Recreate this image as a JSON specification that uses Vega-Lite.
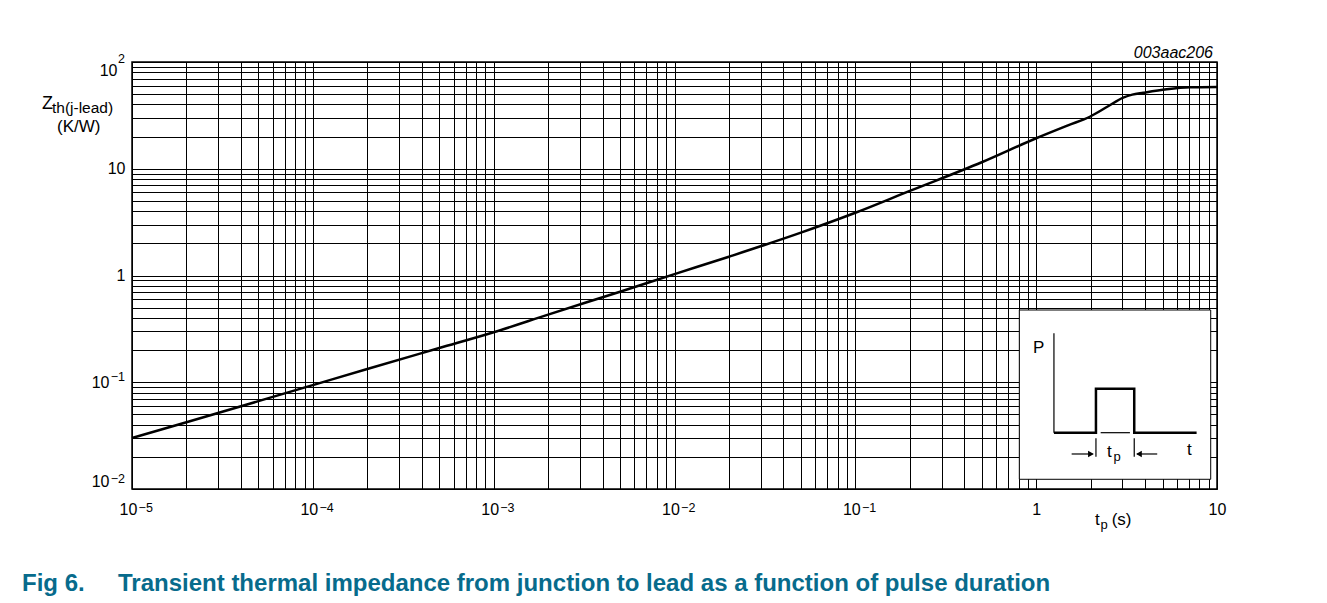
{
  "$schema": "https://vega.github.io/schema/vega-lite/v6.json",
  "width": 1085,
  "height": 427,
  "autosize": {"type": "none"},
  "padding": {"left": 132, "top": 62, "right": 110, "bottom": 114},
  "background": "white",
  "config": {
    "font": "Liberation Sans",
    "view": {"stroke": "#000", "strokeWidth": 1.5}
  },
  "title": {
    "text": "Fig 6.\u00a0\u00a0\u00a0\u00a0\u00a0Transient thermal impedance from junction to lead as a function of pulse duration",
    "orient": "bottom",
    "anchor": "start",
    "frame": "group",
    "dx": -110,
    "offset": 40,
    "fontSize": 24,
    "fontWeight": "bold",
    "color": "#076b8c",
    "font": "Liberation Sans"
  },
  "datasets": {
    "curve": [
      {"t": 0.00001, "z": 0.030},
      {"t": 0.00002, "z": 0.0422},
      {"t": 0.00005, "z": 0.0665},
      {"t": 0.0001, "z": 0.094},
      {"t": 0.0002, "z": 0.133},
      {"t": 0.0005, "z": 0.209},
      {"t": 0.001, "z": 0.294},
      {"t": 0.002, "z": 0.430},
      {"t": 0.005, "z": 0.705},
      {"t": 0.01, "z": 1.03},
      {"t": 0.02, "z": 1.50},
      {"t": 0.05, "z": 2.52},
      {"t": 0.1, "z": 3.87},
      {"t": 0.2, "z": 6.2},
      {"t": 0.5, "z": 11.5},
      {"t": 1.0, "z": 19.3},
      {"t": 1.5, "z": 25.5},
      {"t": 1.98, "z": 30.7},
      {"t": 2.5, "z": 38.5},
      {"t": 3.03, "z": 46.3},
      {"t": 3.4, "z": 49.5},
      {"t": 3.91, "z": 51.5},
      {"t": 5.27, "z": 55.5},
      {"t": 7.08, "z": 57.9},
      {"t": 10, "z": 58.3}
    ],
    "insetBox": [{"t1": 0.807, "t2": 9.23, "z1": 0.01233, "z2": 0.475}],
    "wave": [
      {"i": 0, "t": 1.254, "z": 0.03369},
      {"i": 1, "t": 2.141, "z": 0.03369},
      {"i": 2, "t": 2.141, "z": 0.08701},
      {"i": 3, "t": 3.486, "z": 0.08701},
      {"i": 4, "t": 3.486, "z": 0.03369},
      {"i": 5, "t": 7.713, "z": 0.03369}
    ],
    "segs": [
      {"t1": 1.254, "t2": 1.254, "z1": 0.03369, "z2": 0.2873},
      {"t1": 2.273, "t2": 3.300, "z1": 0.03369, "z2": 0.03369},
      {"t1": 2.141, "t2": 2.141, "z1": 0.02985, "z2": 0.02008},
      {"t1": 3.486, "t2": 3.486, "z1": 0.02985, "z2": 0.02008},
      {"t1": 1.571, "t2": 2.05, "z1": 0.02128, "z2": 0.02128},
      {"t1": 3.62, "t2": 4.671, "z1": 0.02128, "z2": 0.02128}
    ],
    "arrows": [
      {"t": 2.009, "z": 0.02128, "dir": "right"},
      {"t": 3.701, "z": 0.02128, "dir": "left"}
    ],
    "zMain": [{"t": 0.00000318, "z": 36.1, "label": "Z"}],
    "zSub": [{"t": 0.00000361, "z": 33.3, "label": "th(j-lead)"}],
    "txt": [
      {"t": 0.00000385, "z": 22.1, "label": "(K/W)"},
      {"t": 2.113, "z": 0.0046, "label": "t"},
      {"t": 2.615, "z": 0.0046, "label": "(s)"},
      {"t": 0.960, "z": 0.1891, "label": "P"},
      {"t": 2.462, "z": 0.01995, "label": "t"},
      {"t": 6.82, "z": 0.02082, "label": "t"}
    ],
    "subs": [
      {"t": 2.268, "z": 0.00422, "label": "p"},
      {"t": 2.675, "z": 0.01829, "label": "p"}
    ],
    "xexp": [
      {"t": 0.00001088, "z": 0.00613, "label": "−5"},
      {"t": 0.0001088, "z": 0.00613, "label": "−4"},
      {"t": 0.001088, "z": 0.00613, "label": "−3"},
      {"t": 0.01088, "z": 0.00613, "label": "−2"},
      {"t": 0.1088, "z": 0.00613, "label": "−1"}
    ],
    "yexp": [
      {"t": 0.00000915, "z": 106.7, "label": "2"},
      {"t": 0.00000915, "z": 0.1114, "label": "−1"},
      {"t": 0.00000915, "z": 0.01246, "label": "−2"}
    ],
    "code": [{"t": 10, "z": 100, "label": "003aac206"}]
  },
  "layer": [
    {
      "data": {"name": "curve"},
      "mark": {"type": "line", "color": "#000", "strokeWidth": 2.5, "interpolate": "monotone"},
      "encoding": {
        "x": {
          "field": "t", "type": "quantitative",
          "scale": {"type": "log", "domain": [0.00001, 10], "nice": false},
          "axis": {
            "values": [0.00001,0.00002,0.00003,0.00004,0.00005,0.00006,0.00007,0.00008,0.00009,
                       0.0001,0.0002,0.0003,0.0004,0.0005,0.0006,0.0007,0.0008,0.0009,
                       0.001,0.002,0.003,0.004,0.005,0.006,0.007,0.008,0.009,
                       0.01,0.02,0.03,0.04,0.05,0.06,0.07,0.08,0.09,
                       0.1,0.2,0.3,0.4,0.5,0.6,0.7,0.8,0.9,
                       1,2,3,4,5,6,7,8,9,10],
            "labelExpr": "abs(log(datum.value)/LN10 - round(log(datum.value)/LN10)) > 0.001 ? '' : (round(log(datum.value)/LN10) == 0 ? '1' : (round(log(datum.value)/LN10) == 1 ? '10' : '10\u2002\u200b'))",
            "grid": true, "gridColor": "#000", "gridWidth": 1, "gridOpacity": 1,
            "ticks": false, "tickSize": 0, "domain": false,
            "labelOverlap": false, "labelFlush": false, "labelBound": false,
            "labelPadding": 12, "labelFontSize": 16, "labelColor": "#000", "labelFont": "Liberation Sans",
            "title": null
          }
        },
        "y": {
          "field": "z", "type": "quantitative",
          "scale": {"type": "log", "domain": [0.01, 100], "nice": false},
          "axis": {
            "values": [0.01,0.02,0.03,0.04,0.05,0.06,0.07,0.08,0.09,
                       0.1,0.2,0.3,0.4,0.5,0.6,0.7,0.8,0.9,
                       1,2,3,4,5,6,7,8,9,
                       10,20,30,40,50,60,70,80,90,100],
            "labelExpr": "abs(log(datum.value)/LN10 - round(log(datum.value)/LN10)) > 0.001 ? '' : (round(log(datum.value)/LN10) == 0 ? '1' : (round(log(datum.value)/LN10) == 1 ? '10' : (round(log(datum.value)/LN10) > 1 ? '10\u2002\u200b' : '10\u2003\u200b')))",
            "grid": true, "gridColor": "#000", "gridWidth": 1, "gridOpacity": 1,
            "ticks": false, "tickSize": 0, "domain": false,
            "labelOverlap": false, "labelFlush": true, "labelBound": false,
            "labelPadding": 7, "labelFontSize": 16, "labelColor": "#000", "labelFont": "Liberation Sans",
            "title": null
          }
        }
      }
    },
    {
      "data": {"name": "insetBox"},
      "mark": {"type": "rect", "fill": "#fff", "stroke": "#000", "strokeWidth": 1},
      "encoding": {
        "x": {"field": "t1", "type": "quantitative", "scale": {"type": "log", "domain": [0.00001, 10], "nice": false}},
        "x2": {"field": "t2"},
        "y": {"field": "z1", "type": "quantitative", "scale": {"type": "log", "domain": [0.01, 100], "nice": false}},
        "y2": {"field": "z2"}
      }
    },
    {
      "data": {"name": "wave"},
      "mark": {"type": "line", "color": "#000", "strokeWidth": 2.5, "strokeJoin": "miter", "strokeCap": "butt"},
      "encoding": {
        "x": {"field": "t", "type": "quantitative", "scale": {"type": "log", "domain": [0.00001, 10], "nice": false}},
        "y": {"field": "z", "type": "quantitative", "scale": {"type": "log", "domain": [0.01, 100], "nice": false}},
        "order": {"field": "i", "type": "quantitative"}
      }
    },
    {
      "data": {"name": "segs"},
      "mark": {"type": "rule", "color": "#000", "strokeWidth": 1.2},
      "encoding": {
        "x": {"field": "t1", "type": "quantitative", "scale": {"type": "log", "domain": [0.00001, 10], "nice": false}},
        "x2": {"field": "t2"},
        "y": {"field": "z1", "type": "quantitative", "scale": {"type": "log", "domain": [0.01, 100], "nice": false}},
        "y2": {"field": "z2"}
      }
    },
    {
      "data": {"name": "arrows"},
      "mark": {"type": "point", "filled": true, "color": "#000", "size": 45, "opacity": 1},
      "encoding": {
        "x": {"field": "t", "type": "quantitative", "scale": {"type": "log", "domain": [0.00001, 10], "nice": false}},
        "y": {"field": "z", "type": "quantitative", "scale": {"type": "log", "domain": [0.01, 100], "nice": false}},
        "shape": {"field": "dir", "type": "nominal", "scale": {"domain": ["right", "left"], "range": ["triangle-right", "triangle-left"]}, "legend": null}
      }
    },
    {
      "data": {"name": "zMain"},
      "mark": {"type": "text", "align": "left", "baseline": "alphabetic", "fontSize": 18, "color": "#000", "font": "Liberation Sans"},
      "encoding": {
        "x": {"field": "t", "type": "quantitative", "scale": {"type": "log", "domain": [0.00001, 10], "nice": false}},
        "y": {"field": "z", "type": "quantitative", "scale": {"type": "log", "domain": [0.01, 100], "nice": false}},
        "text": {"field": "label"}
      }
    },
    {
      "data": {"name": "zSub"},
      "mark": {"type": "text", "align": "left", "baseline": "alphabetic", "fontSize": 15.5, "color": "#000", "font": "Liberation Sans"},
      "encoding": {
        "x": {"field": "t", "type": "quantitative", "scale": {"type": "log", "domain": [0.00001, 10], "nice": false}},
        "y": {"field": "z", "type": "quantitative", "scale": {"type": "log", "domain": [0.01, 100], "nice": false}},
        "text": {"field": "label"}
      }
    },
    {
      "data": {"name": "txt"},
      "mark": {"type": "text", "align": "left", "baseline": "alphabetic", "fontSize": 17, "color": "#000", "font": "Liberation Sans"},
      "encoding": {
        "x": {"field": "t", "type": "quantitative", "scale": {"type": "log", "domain": [0.00001, 10], "nice": false}},
        "y": {"field": "z", "type": "quantitative", "scale": {"type": "log", "domain": [0.01, 100], "nice": false}},
        "text": {"field": "label"}
      }
    },
    {
      "data": {"name": "subs"},
      "mark": {"type": "text", "align": "left", "baseline": "alphabetic", "fontSize": 13, "color": "#000", "font": "Liberation Sans"},
      "encoding": {
        "x": {"field": "t", "type": "quantitative", "scale": {"type": "log", "domain": [0.00001, 10], "nice": false}},
        "y": {"field": "z", "type": "quantitative", "scale": {"type": "log", "domain": [0.01, 100], "nice": false}},
        "text": {"field": "label"}
      }
    },
    {
      "data": {"name": "xexp"},
      "mark": {"type": "text", "align": "left", "baseline": "alphabetic", "fontSize": 12.5, "color": "#000", "font": "Liberation Sans"},
      "encoding": {
        "x": {"field": "t", "type": "quantitative", "scale": {"type": "log", "domain": [0.00001, 10], "nice": false}},
        "y": {"field": "z", "type": "quantitative", "scale": {"type": "log", "domain": [0.01, 100], "nice": false}},
        "text": {"field": "label"}
      }
    },
    {
      "data": {"name": "yexp"},
      "mark": {"type": "text", "align": "right", "baseline": "middle", "fontSize": 12.5, "color": "#000", "font": "Liberation Sans"},
      "encoding": {
        "x": {"field": "t", "type": "quantitative", "scale": {"type": "log", "domain": [0.00001, 10], "nice": false}},
        "y": {"field": "z", "type": "quantitative", "scale": {"type": "log", "domain": [0.01, 100], "nice": false}},
        "text": {"field": "label"}
      }
    },
    {
      "data": {"name": "code"},
      "mark": {"type": "text", "align": "right", "baseline": "alphabetic", "dx": -4, "dy": -4, "fontSize": 16, "fontStyle": "italic", "color": "#000", "font": "Liberation Sans"},
      "encoding": {
        "x": {"field": "t", "type": "quantitative", "scale": {"type": "log", "domain": [0.00001, 10], "nice": false}},
        "y": {"field": "z", "type": "quantitative", "scale": {"type": "log", "domain": [0.01, 100], "nice": false}},
        "text": {"field": "label"}
      }
    }
  ]
}
